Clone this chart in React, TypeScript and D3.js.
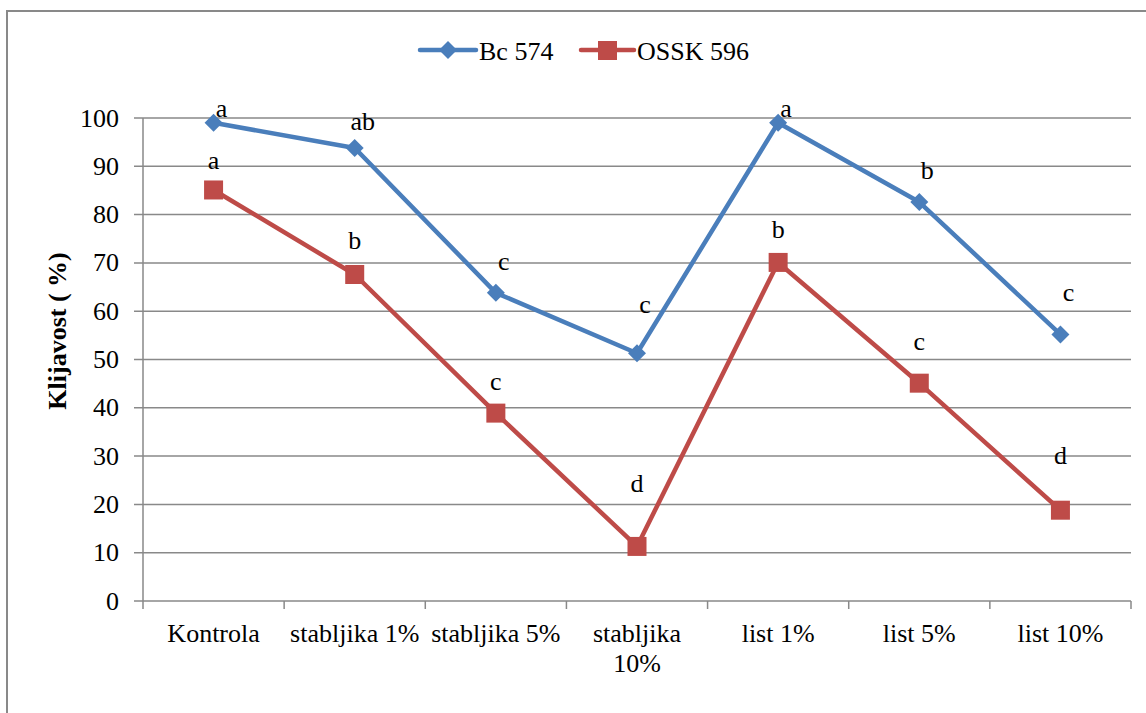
import * as d3 from "d3";

const categories = [
  "Kontrola",
  "stabljika 1%",
  "stabljika 5%",
  "stabljika 10%",
  "list 1%",
  "list 5%",
  "list 10%",
];
const bcValues = [99, 93.8, 63.8, 51.3, 99, 82.6, 55.2];
const osskValues = [85.1, 67.6, 38.9, 11.3, 70.1, 45.1, 18.8];
const bcLetters = ["a", "ab", "c", "c", "a", "b", "c"];
const osskLetters = ["a", "b", "c", "d", "b", "c", "d"];
// where the significance letters sit, in axis units
const bcLetterAt = [102, 99.2, 70.2, 61.3, 102, 89.2, 63.8];
const osskLetterAt = [91.3, 74.7, 45.5, 24.4, 77, 53.8, 30.2];
const yTicks = [0, 10, 20, 30, 40, 50, 60, 70, 80, 90, 100];

const width = 1146;
const height = 713;
const margin = { top: 118, right: 15, bottom: 112, left: 143 };
const blue = "#4A7EBB";
const red = "#BE4B48";
const grid = "#898989";
const font = '"Liberation Serif", "Times New Roman", serif';
const fs = 26;

export default function App() {
  const x = d3
    .scaleBand()
    .domain(categories)
    .range([margin.left, width - margin.right]);
  const y = d3
    .scaleLinear()
    .domain([0, 100])
    .range([height - margin.bottom, margin.top]);
  const cx = (c: string) => x(c)! + x.bandwidth() / 2;

  const line = d3
    .line<number>()
    .x((_, i) => cx(categories[i]))
    .y((d) => y(d));

  const diamond = (px: number, py: number, r: number) =>
    `M${px},${py - r}L${px + r},${py}L${px},${py + r}L${px - r},${py}Z`;

  const boundaries = [...categories.map((c) => x(c)!), x.range()[1]];
  const txt = { fontFamily: font, fill: "#000" };

  return (
    <svg
      width={width}
      height={height}
      style={{ position: "absolute", left: 0, top: 0 }}
    >
      <rect x={0} y={0} width={width} height={height} fill="#fff" />
      <rect
        x={7}
        y={11}
        width={width + 10}
        height={height + 10}
        fill="none"
        stroke={grid}
        strokeWidth={2}
      />

      {/* grid + y axis */}
      {yTicks.map((t) => (
        <g key={t}>
          <line
            x1={margin.left - 9}
            x2={x.range()[1]}
            y1={y(t)}
            y2={y(t)}
            stroke={grid}
            strokeWidth={1.5}
          />
          <text
            x={119}
            y={y(t)}
            textAnchor="end"
            dominantBaseline="central"
            fontSize={fs}
            style={txt}
          >
            {t}
          </text>
        </g>
      ))}
      <line
        x1={margin.left}
        x2={margin.left}
        y1={y(100)}
        y2={y(0)}
        stroke={grid}
        strokeWidth={1.5}
      />
      {boundaries.map((b, i) => (
        <line
          key={i}
          x1={b}
          x2={b}
          y1={y(0)}
          y2={y(0) + 8}
          stroke={grid}
          strokeWidth={1.5}
        />
      ))}

      {/* x labels */}
      {categories.map((c) => {
        const lines = c === "stabljika 10%" ? ["stabljika", "10%"] : [c];
        return (
          <text
            key={c}
            x={cx(c)}
            y={642}
            textAnchor="middle"
            fontSize={fs}
            style={txt}
          >
            {lines.map((l, i) => (
              <tspan key={i} x={cx(c)} dy={i === 0 ? 0 : 30}>
                {l}
              </tspan>
            ))}
          </text>
        );
      })}

      <text
        transform={`translate(66,${331}) rotate(-90)`}
        textAnchor="middle"
        fontSize={fs}
        fontWeight="bold"
        style={txt}
      >
        Klijavost ( %)
      </text>

      {/* series */}
      <path
        d={line(osskValues)!}
        fill="none"
        stroke={red}
        strokeWidth={4.5}
        strokeLinejoin="round"
      />
      {osskValues.map((v, i) => (
        <rect
          key={i}
          x={cx(categories[i]) - 9.5}
          y={y(v) - 9.5}
          width={19}
          height={19}
          fill={red}
        />
      ))}
      <path
        d={line(bcValues)!}
        fill="none"
        stroke={blue}
        strokeWidth={4.5}
        strokeLinejoin="round"
      />
      {bcValues.map((v, i) => (
        <path key={i} d={diamond(cx(categories[i]), y(v), 9)} fill={blue} />
      ))}

      {/* letters */}
      {bcLetters.map((l, i) => (
        <text
          key={"b" + i}
          x={cx(categories[i]) + 8}
          y={y(bcLetterAt[i])}
          textAnchor="middle"
          dominantBaseline="central"
          fontSize={fs}
          style={txt}
        >
          {l}
        </text>
      ))}
      {osskLetters.map((l, i) => (
        <text
          key={"o" + i}
          x={cx(categories[i])}
          y={y(osskLetterAt[i])}
          textAnchor="middle"
          dominantBaseline="central"
          fontSize={fs}
          style={txt}
        >
          {l}
        </text>
      ))}

      {/* legend */}
      <line
        x1={420}
        x2={476}
        y1={50}
        y2={50}
        stroke={blue}
        strokeWidth={4.5}
        strokeLinecap="round"
      />
      <path d={diamond(448, 50, 9)} fill={blue} />
      <text x={479} y={60} fontSize={fs} style={txt}>
        Bc 574
      </text>
      <line
        x1={581}
        x2={634}
        y1={50}
        y2={50}
        stroke={red}
        strokeWidth={4.5}
        strokeLinecap="round"
      />
      <rect x={598} y={41} width={19} height={19} fill={red} />
      <text x={637} y={60} fontSize={fs} style={txt}>
        OSSK 596
      </text>
    </svg>
  );
}
